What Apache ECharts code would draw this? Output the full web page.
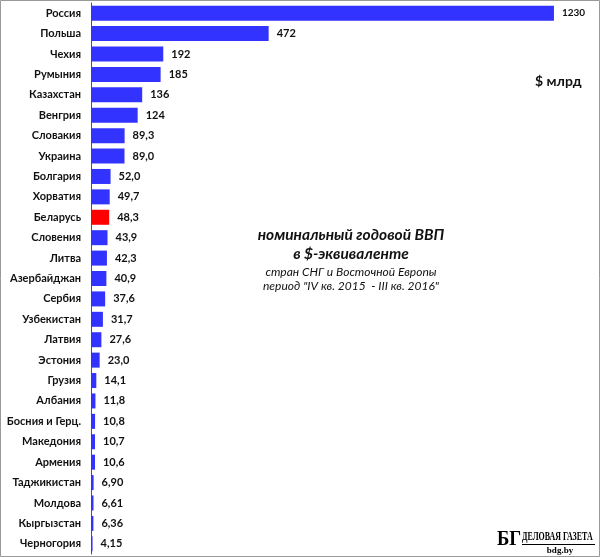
<!DOCTYPE html>
<html><head><meta charset="utf-8">
<script src="https://cdn.jsdelivr.net/npm/echarts@6/dist/echarts.min.js"></script>
<style>html,body{margin:0;padding:0;background:#fff}#c{width:600px;height:557px}</style>
</head><body><div id="c"></div>
<script>
const categories = ["Россия","Польша","Чехия","Румыния","Казахстан","Венгрия","Словакия","Украина","Болгария","Хорватия","Беларусь","Словения","Литва","Азербайджан","Сербия","Узбекистан","Латвия","Эстония","Грузия","Албания","Босния и Герц.","Македония","Армения","Таджикистан","Молдова","Кыргызстан","Черногория"];
const values = [1230,472,192,185,136,124,89.3,89.0,52.0,49.7,48.3,43.9,42.3,40.9,37.6,31.7,27.6,23.0,14.1,11.8,10.8,10.7,10.6,6.90,6.61,6.36,4.15];
const valueLabels = ["1230","472","192","185","136","124","89,3","89,0","52,0","49,7","48,3","43,9","42,3","40,9","37,6","31,7","27,6","23,0","14,1","11,8","10,8","10,7","10,6","6,90","6,61","6,36","4,15"];
const highlight = "Беларусь";

const font = "Lato, 'Open Sans', sans-serif";
const chart = echarts.init(document.getElementById('c'));
const data = values.map((v,i)=>{
  const d = {value:v, itemStyle:{color: categories[i]===highlight ? '#FF0000' : '#3333FF'}};
  if (i===0) d.label = {fontSize:10};
  return d;
});
chart.setOption({
  animation:false,
  grid:{left:91,right:19.7,top:3,bottom:3},
  xAxis:{type:'value',min:0,max:1300,show:false},
  yAxis:{type:'category',data:categories,inverse:true,
    axisLine:{show:true,lineStyle:{color:'#555',width:1}},
    axisTick:{show:false},
    axisLabel:{fontFamily:font,fontWeight:'bold',fontSize:11,color:'#111',margin:10}},
  series:[{type:'bar',data:data,barWidth:15,
    label:{show:true,position:'right',distance:8,fontFamily:font,fontWeight:'bold',fontSize:11,color:'#111',
      formatter:p=>valueLabels[p.dataIndex]}}],
  graphic:[
    {type:'rect',shape:{x:0.5,y:0.5,width:599,height:556},style:{fill:'none',stroke:'#999',lineWidth:1}},
    {type:'text',left:535,top:74,style:{text:'$ млрд',font:'bold 14px '+font,fill:'#111'}},
    {type:'text',x:351,y:235,style:{text:'номинальный годовой ВВП',font:'italic bold 15.5px '+font,fill:'#111',align:'center',verticalAlign:'middle'}},
    {type:'text',x:351,y:254,style:{text:'в $-эквиваленте',font:'italic bold 15.5px '+font,fill:'#111',align:'center',verticalAlign:'middle'}},
    {type:'text',x:351,y:272,style:{text:'стран СНГ и Восточной Европы',font:'italic 12px '+font,fill:'#111',align:'center',verticalAlign:'middle'}},
    {type:'text',x:351,y:286,style:{text:'период "IV кв. 2015  - III кв. 2016"',font:'italic 12px '+font,fill:'#111',align:'center',verticalAlign:'middle'}},
    {type:'text',x:497,y:539,scaleX:0.85,style:{text:'БГ',font:'bold 22px "Liberation Serif", serif',fill:'#000',verticalAlign:'middle'}},
    {type:'text',x:522,y:537,scaleX:0.66,style:{text:'ДЕЛОВАЯ ГАЗЕТА',font:'bold 12px "Liberation Serif", serif',fill:'#000',verticalAlign:'middle'}},
    {type:'rect',shape:{x:522,y:544,width:73,height:1},style:{fill:'#000'}},
    {type:'text',x:560,y:551,style:{text:'bdg.by',font:'bold 9px "Liberation Serif", serif',fill:'#000',align:'center',verticalAlign:'middle'}}
  ]
});
</script></body></html>
